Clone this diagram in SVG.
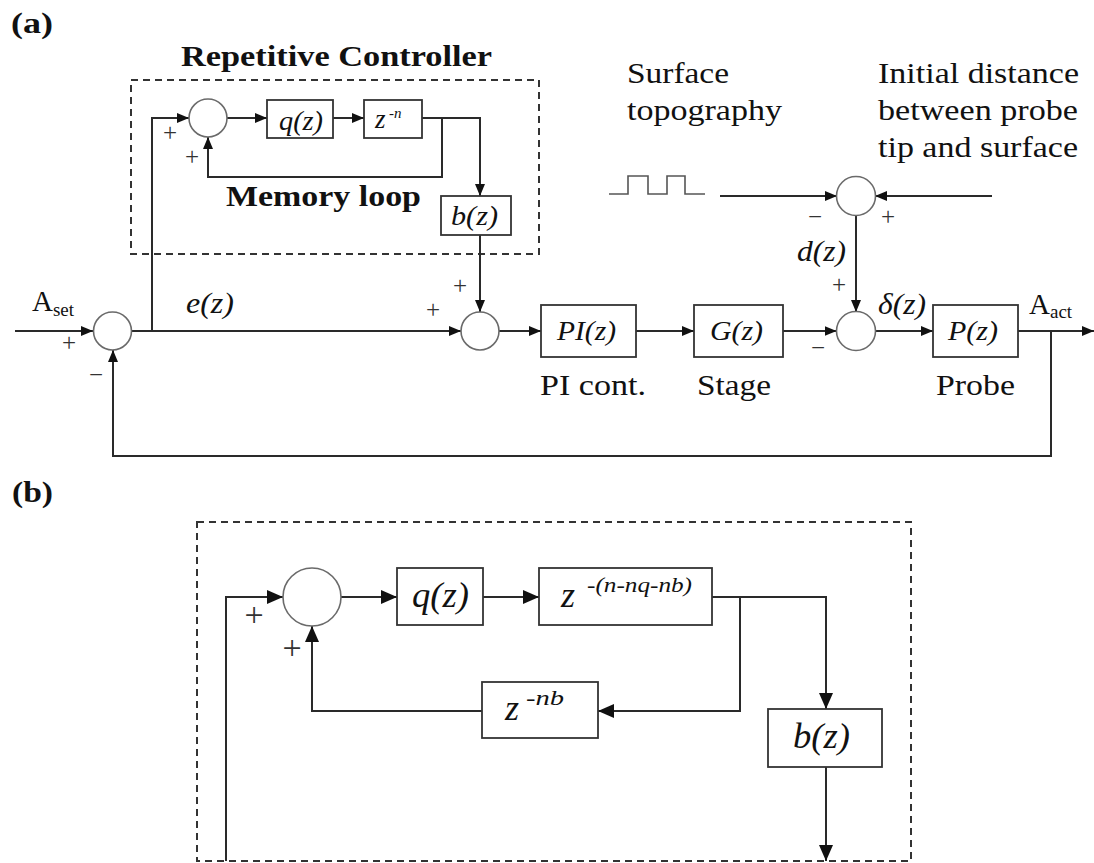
<svg xmlns="http://www.w3.org/2000/svg" width="1094" height="863" viewBox="0 0 1094 863">
  <style>
    .bg { fill: #ffffff; }
    .blk { fill: #ffffff; stroke: #333333; stroke-width: 1.8; }
    .sum { fill: #ffffff; stroke: #6a6a6a; stroke-width: 1.6; }
    .frame { fill: none; stroke: #333333; stroke-width: 2; stroke-dasharray: 7 5; }
    .wire { fill: none; stroke: #2a2a2a; stroke-width: 2; }
    .wire-a { marker-end: url(#tipA); }
    .wire-b { marker-end: url(#tipB); }
    .thin { fill: none; stroke: #555555; stroke-width: 1.6; }
    .title { font-weight: bold; fill: #111111; }
    .lbl { fill: #111111; }
    .math { font-style: italic; fill: #111111; }
    .sign { fill: #333333; font-size: 25px; text-anchor: middle; }
    .signL { fill: #333333; font-size: 34px; text-anchor: middle; }
  </style>
  <defs>
    <marker id="tipA" viewBox="0 0 12 10" refX="12" refY="5" markerWidth="12" markerHeight="10" markerUnits="userSpaceOnUse" orient="auto">
      <path d="M0,0 L12,5 L0,10 z" fill="#111111"/>
    </marker>
    <marker id="tipB" viewBox="0 0 16 14" refX="16" refY="7" markerWidth="16" markerHeight="14" markerUnits="userSpaceOnUse" orient="auto">
      <path d="M0,0 L16,7 L0,14 z" fill="#111111"/>
    </marker>
  </defs>

  <rect class="bg" x="0" y="0" width="1094" height="863"/>

  <g font-family="Liberation Serif, Times New Roman, serif">
  <!-- panel captions -->
  <text class="title" x="11" y="33" font-size="30" textLength="42" lengthAdjust="spacingAndGlyphs">(a)</text>
  <text class="title" x="12" y="502" font-size="30" textLength="41" lengthAdjust="spacingAndGlyphs">(b)</text>

  <!-- ===== (a) overall loop ===== -->
  <g id="rc-frame-a">
    <rect class="frame" x="131" y="80" width="408" height="174"/>
    <text class="title" x="181" y="66" font-size="30" textLength="311" lengthAdjust="spacingAndGlyphs">Repetitive Controller</text>
    <text class="title" x="226" y="206" font-size="29" textLength="195" lengthAdjust="spacingAndGlyphs">Memory loop</text>
  </g>

  <g id="connectors-a">
    <path class="wire wire-a" d="M15,331 H93"/>
    <path class="wire wire-a" d="M131.5,331 H461"/>
    <path class="wire wire-a" d="M152,331 V118 H189"/>
    <path class="wire wire-a" d="M227,118 H267"/>
    <path class="wire wire-a" d="M333,118 H364"/>
    <path class="wire wire-a" d="M422,118 H480 V196"/>
    <path class="wire wire-a" d="M442,118 V177 H208 V137"/>
    <path class="wire wire-a" d="M480,235 V312"/>
    <path class="wire wire-a" d="M499,331 H541"/>
    <path class="wire wire-a" d="M636,331 H694"/>
    <path class="wire wire-a" d="M783,331 H836.5"/>
    <path class="wire wire-a" d="M875.5,331 H933"/>
    <path class="wire wire-a" d="M1018,331 H1094"/>
    <path class="wire wire-a" d="M1051,331 V456 H113 V350"/>
    <path class="wire wire-a" d="M720,196 H837"/>
    <path class="wire wire-a" d="M992,196 H875"/>
    <path class="wire wire-a" d="M856,215 V312"/>
  </g>

  <!-- summing junctions (a) -->
  <g id="sum-in">
    <circle class="sum" cx="112.5" cy="331" r="19"/>
    <text class="sign" x="69" y="351">+</text>
    <text class="sign" x="96" y="383">−</text>
  </g>
  <g id="sum-memory">
    <circle class="sum" cx="208" cy="118" r="19"/>
    <text class="sign" x="170" y="141">+</text>
    <text class="sign" x="192" y="165">+</text>
  </g>
  <g id="sum-rc">
    <circle class="sum" cx="480" cy="331" r="19"/>
    <text class="sign" x="460" y="294">+</text>
    <text class="sign" x="433" y="318">+</text>
  </g>
  <g id="sum-probe">
    <circle class="sum" cx="856" cy="331" r="19.5"/>
    <text class="sign" x="818" y="356">−</text>
    <text class="sign" x="839" y="293">+</text>
  </g>
  <g id="sum-surface">
    <circle class="sum" cx="856" cy="196" r="19.5"/>
    <text class="sign" x="815" y="225">−</text>
    <text class="sign" x="888" y="225">+</text>
  </g>

  <!-- blocks (a) -->
  <g id="q-a">
    <rect class="blk" x="267" y="100" width="66" height="38"/>
    <text class="math" x="279" y="130" font-size="27" textLength="44" lengthAdjust="spacingAndGlyphs">q(z)</text>
  </g>
  <g id="delay-a">
    <rect class="blk" x="364" y="100" width="58" height="38"/>
    <text class="math" x="375" y="128" font-size="27">z</text>
    <text class="math" x="389" y="118" font-size="15">-n</text>
  </g>
  <g id="b-a">
    <rect class="blk" x="441" y="196" width="70" height="39"/>
    <text class="math" x="451" y="225" font-size="27" textLength="47" lengthAdjust="spacingAndGlyphs">b(z)</text>
  </g>
  <g id="pi">
    <rect class="blk" x="541" y="305" width="95" height="52"/>
    <text class="math" x="557" y="340" font-size="28" textLength="59" lengthAdjust="spacingAndGlyphs">PI(z)</text>
    <text class="lbl" x="540" y="395" font-size="29" textLength="106" lengthAdjust="spacingAndGlyphs">PI cont.</text>
  </g>
  <g id="stage">
    <rect class="blk" x="694" y="305" width="89" height="52"/>
    <text class="math" x="710" y="340" font-size="28" textLength="53" lengthAdjust="spacingAndGlyphs">G(z)</text>
    <text class="lbl" x="697" y="395" font-size="29" textLength="74" lengthAdjust="spacingAndGlyphs">Stage</text>
  </g>
  <g id="probe">
    <rect class="blk" x="933" y="305" width="85" height="52"/>
    <text class="math" x="948" y="340" font-size="28" textLength="50" lengthAdjust="spacingAndGlyphs">P(z)</text>
    <text class="lbl" x="936" y="395" font-size="29" textLength="79" lengthAdjust="spacingAndGlyphs">Probe</text>
  </g>

  <!-- signals and sources (a) -->
  <g id="setpoint">
    <text class="lbl" x="32" y="311" font-size="29">A<tspan font-size="19" dy="5">set</tspan></text>
  </g>
  <g id="actual">
    <text class="lbl" x="1029" y="314" font-size="29">A<tspan font-size="19" dy="4">act</tspan></text>
  </g>
  <text class="math" x="186" y="313" font-size="29" textLength="48" lengthAdjust="spacingAndGlyphs">e(z)</text>
  <text class="math" x="797" y="261" font-size="29" textLength="49" lengthAdjust="spacingAndGlyphs">d(z)</text>
  <text class="math" x="878" y="314" font-size="29" textLength="48" lengthAdjust="spacingAndGlyphs">δ(z)</text>

  <g id="topography">
    <path class="thin" d="M609,194 H628 V176 H648 V194 H667 V176 H685 V194 H705"/>
    <text class="lbl" x="627" y="83" font-size="30" textLength="102" lengthAdjust="spacingAndGlyphs">Surface</text>
    <text class="lbl" x="627" y="120" font-size="30" textLength="155" lengthAdjust="spacingAndGlyphs">topography</text>
  </g>
  <g id="initial-distance">
    <text class="lbl" x="878" y="83" font-size="30" textLength="201" lengthAdjust="spacingAndGlyphs">Initial distance</text>
    <text class="lbl" x="878" y="120" font-size="30" textLength="200" lengthAdjust="spacingAndGlyphs">between probe</text>
    <text class="lbl" x="878" y="157" font-size="30" textLength="200" lengthAdjust="spacingAndGlyphs">tip and surface</text>
  </g>

  <!-- ===== (b) repetitive controller detail ===== -->
  <g id="rc-frame-b">
    <rect class="frame" x="197" y="522" width="714" height="339"/>
  </g>

  <g id="connectors-b">
    <path class="wire wire-b" d="M226,861 V597 H283"/>
    <path class="wire wire-b" d="M341,597 H397"/>
    <path class="wire wire-b" d="M483,597 H539"/>
    <path class="wire wire-b" d="M712,597 H826 V709"/>
    <path class="wire wire-b" d="M740,597 V711 H598"/>
    <path class="wire wire-b" d="M482,711 H312 V626"/>
    <path class="wire wire-b" d="M826,767 V861"/>
  </g>

  <g id="sum-b">
    <circle class="sum" cx="312" cy="597" r="29"/>
    <text class="signL" x="254" y="626">+</text>
    <text class="signL" x="292" y="659">+</text>
  </g>
  <g id="q-b">
    <rect class="blk" x="397" y="568" width="86" height="57"/>
    <text class="math" x="412" y="607" font-size="36" textLength="57" lengthAdjust="spacingAndGlyphs">q(z)</text>
  </g>
  <g id="delay-b">
    <rect class="blk" x="539" y="568" width="173" height="57"/>
    <text class="math" x="561" y="607" font-size="36">z</text>
    <text class="math" x="587" y="592" font-size="20" textLength="105" lengthAdjust="spacingAndGlyphs">-(n-nq-nb)</text>
  </g>
  <g id="delay-nb">
    <rect class="blk" x="482" y="682" width="116" height="56"/>
    <text class="math" x="505" y="720" font-size="36">z</text>
    <text class="math" x="526" y="705" font-size="20" textLength="38" lengthAdjust="spacingAndGlyphs">-nb</text>
  </g>
  <g id="b-b">
    <rect class="blk" x="768" y="709" width="114" height="58"/>
    <text class="math" x="793" y="748" font-size="36" textLength="57" lengthAdjust="spacingAndGlyphs">b(z)</text>
  </g>
  </g>
</svg>
